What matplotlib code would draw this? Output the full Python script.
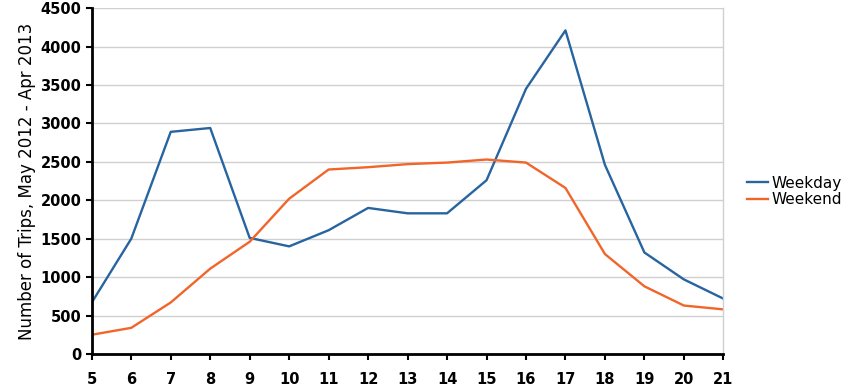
import matplotlib
matplotlib.use("Agg")
import matplotlib.pyplot as plt

hours = list(range(5, 22))
weekday = [670, 1500, 2890, 2940, 1510, 1400, 1610, 1900, 1830, 1830,
           2260, 3450, 4210, 2460, 1320, 970, 720]
weekend = [250, 340, 670, 1110, 1460, 2020, 2400, 2430, 2470, 2490,
           2530, 2490, 2160, 1300, 880, 630, 580]
yticks = list(range(0, 5000, 500))

BLUE = "#2764A0"
ORANGE = "#F2652A"

fig = plt.figure(figsize=(8.5, 3.86), dpi=100, facecolor="white")
ax = fig.add_axes([0.108, 0.083, 0.743, 0.896])

ax.plot(hours, weekday, color=BLUE, lw=1.7, label="Weekday")
ax.plot(hours, weekend, color=ORANGE, lw=1.7, label="Weekend")

ax.set_xlim(5, 21)
ax.set_ylim(0, 4500)
ax.set_xticks(hours)
ax.set_yticks(yticks)
ax.grid(axis="y", color="#D0D0D0", lw=1.0)
ax.set_axisbelow(True)

for side in ("left", "bottom"):
    ax.spines[side].set_color("black")
    ax.spines[side].set_linewidth(2.0)
ax.spines["top"].set_visible(False)
ax.spines["right"].set_color("#D0D0D0")
ax.spines["right"].set_linewidth(1.0)

ax.tick_params(axis="both", direction="out", length=4, width=1.5,
               colors="black", labelsize=10.5)
ax.tick_params(axis="x", pad=9)
for lbl in ax.get_xticklabels() + ax.get_yticklabels():
    lbl.set_fontweight("bold")

ax.set_ylabel("Number of Trips, May 2012 - Apr 2013", fontsize=12, labelpad=3)

ax.legend(loc="center left", bbox_to_anchor=(1.015, 0.47), frameon=False,
          fontsize=11, handlelength=1.4, handletextpad=0.2,
          labelspacing=0.1)

fig.savefig("out.png", dpi=100, facecolor="white")
